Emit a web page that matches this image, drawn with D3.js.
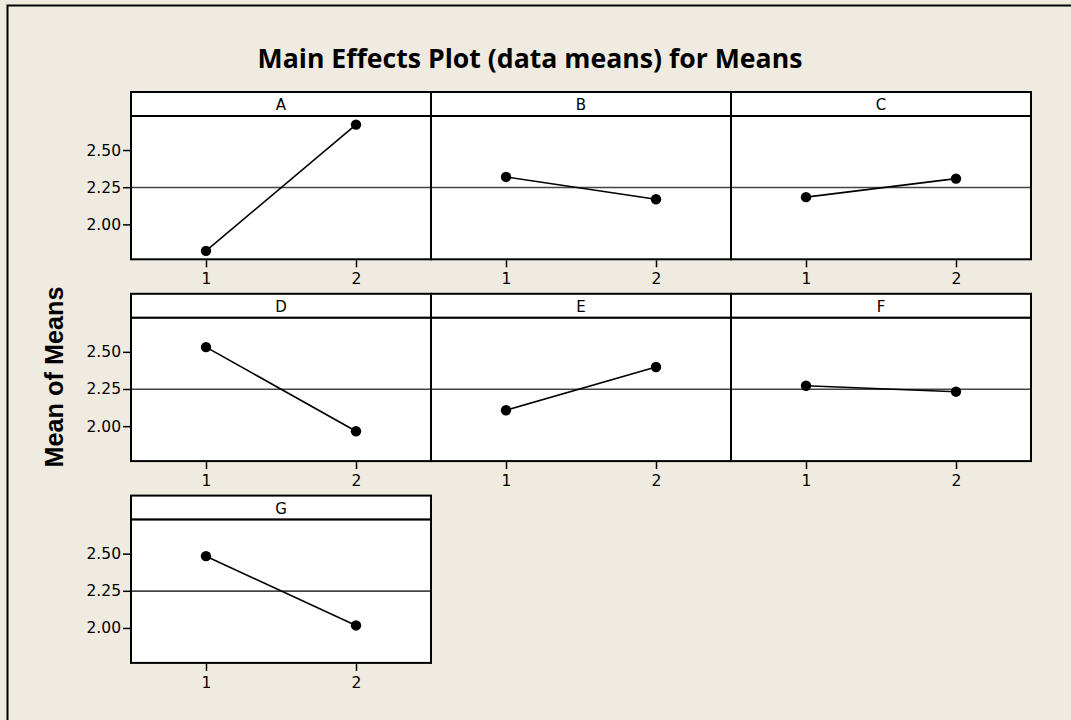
<!DOCTYPE html>
<html>
<head>
<meta charset="utf-8">
<script src="https://cdn.jsdelivr.net/npm/d3@7"></script>
<style>
  html, body { margin: 0; padding: 0; background: #EFEBE1; }
  svg { display: block; }
</style>
</head>
<body>
<svg id="chart" width="1071" height="720"></svg>
<script>
// ---- data ----
const factors = ["A", "B", "C", "D", "E", "F", "G"];
const levels = [1, 2];
const levelLabels = ["1", "2"];
const level1Means = [1.822, 2.319, 2.183, 2.532, 2.107, 2.272, 2.483];
const level2Means = [2.671, 2.169, 2.308, 1.966, 2.398, 2.232, 2.017];
const grandMean = 2.248;
const yTickValues = [2.00, 2.25, 2.50];
const yDomain = [1.765, 2.729];
const titleText = "Main Effects Plot (data means) for Means";
const yLabelText = "Mean of Means";

// ---- layout ----
const svg = d3.select("#chart");
const W = 1071, H = 720;
const gridLeft = 131, panelW = 300, rowTop0 = 92, rowPitch = 201.8;
const stripH = 24, plotH = 143.3;
const nCols = 3;

svg.append("rect").attr("x", 0).attr("y", 0).attr("width", W).attr("height", H).attr("fill", "#EFEBE1");
svg.append("rect").attr("x", 7.5).attr("y", 5.5).attr("width", 1200).attr("height", 900)
   .attr("fill", "none").attr("stroke", "#000").attr("stroke-width", 2);

const title = svg.append("text").text(titleText)
  .attr("x", 530).attr("y", 68).attr("text-anchor", "middle")
  .attr("font-family", "'Open Sans', sans-serif").attr("font-weight", "bold")
  .attr("font-size", 24).attr("fill", "#000");
{
  const w = title.node().getComputedTextLength();
  title.attr("font-size", 24 * 545 / w);
}

const ylab = svg.append("text").text(yLabelText)
  .attr("transform", "translate(63,377) rotate(-90)").attr("text-anchor", "middle")
  .attr("font-family", "'Liberation Sans', Arial, sans-serif").attr("font-weight", "bold")
  .attr("font-size", 20).attr("fill", "#000");
{
  const w = ylab.node().getComputedTextLength();
  ylab.attr("font-size", 20 * 181 / w);
}

const x = d3.scaleLinear().domain([0.5, 2.5]).range([0, panelW]);
const y = d3.scaleLinear().domain(yDomain).range([plotH, 0]);
const tickFont = "'DejaVu Sans', sans-serif";

factors.forEach((f, i) => {
  const col = i % nCols, row = Math.floor(i / nCols);
  const px = gridLeft + col * panelW;
  const py = rowTop0 + row * rowPitch;
  const g = svg.append("g").attr("transform", `translate(${px},${py})`);

  // strip
  g.append("rect").attr("x", 0).attr("y", 0).attr("width", panelW).attr("height", stripH)
    .attr("fill", "#fff").attr("stroke", "#000").attr("stroke-width", 2);
  g.append("text").text(f).attr("x", panelW / 2).attr("y", stripH / 2 + 6)
    .attr("text-anchor", "middle").attr("font-family", tickFont).attr("font-size", 15).attr("fill", "#000");

  const p = g.append("g").attr("transform", `translate(0,${stripH})`);
  p.append("rect").attr("x", 0).attr("y", 0).attr("width", panelW).attr("height", plotH)
    .attr("fill", "#fff");

  // reference line
  p.append("line").attr("x1", 0).attr("x2", panelW)
    .attr("y1", y(grandMean)).attr("y2", y(grandMean))
    .attr("stroke", "#444").attr("stroke-width", 1.6);

  const pts = levels.map((lv, k) => ({ lv, v: k === 0 ? level1Means[i] : level2Means[i] }));
  p.append("path").datum(pts)
    .attr("d", d3.line().x(d => x(d.lv)).y(d => y(d.v)))
    .attr("fill", "none").attr("stroke", "#000").attr("stroke-width", 1.6);
  p.selectAll("circle.pt").data(pts).enter().append("circle")
    .attr("cx", d => x(d.lv)).attr("cy", d => y(d.v)).attr("r", 5.2).attr("fill", "#000");

  p.append("rect").attr("x", 0).attr("y", 0).attr("width", panelW).attr("height", plotH)
    .attr("fill", "none").attr("stroke", "#000").attr("stroke-width", 2);

  // x axis
  const xa = p.append("g").attr("transform", `translate(0,${plotH + 1})`)
    .call(d3.axisBottom(x).tickValues(levels).tickFormat((d, k) => levelLabels[k]).tickSize(7).tickSizeOuter(0));
  xa.select(".domain").remove();
  xa.selectAll(".tick line").attr("stroke", "#000").attr("stroke-width", 1.5);
  xa.selectAll(".tick text").attr("font-family", tickFont).attr("font-size", 15.5).attr("fill", "#000").attr("dy", "0.9em");

  if (col === 0) {
    const ya = p.append("g").attr("transform", `translate(-1,0)`)
      .call(d3.axisLeft(y).tickValues(yTickValues).tickFormat(d3.format(".2f")).tickSize(7).tickSizeOuter(0));
    ya.select(".domain").remove();
    ya.selectAll(".tick line").attr("stroke", "#000").attr("stroke-width", 1.5);
    ya.selectAll(".tick text").attr("font-family", tickFont).attr("font-size", 15.5).attr("fill", "#000").attr("x", -9);
  }
});
</script>
</body>
</html>
